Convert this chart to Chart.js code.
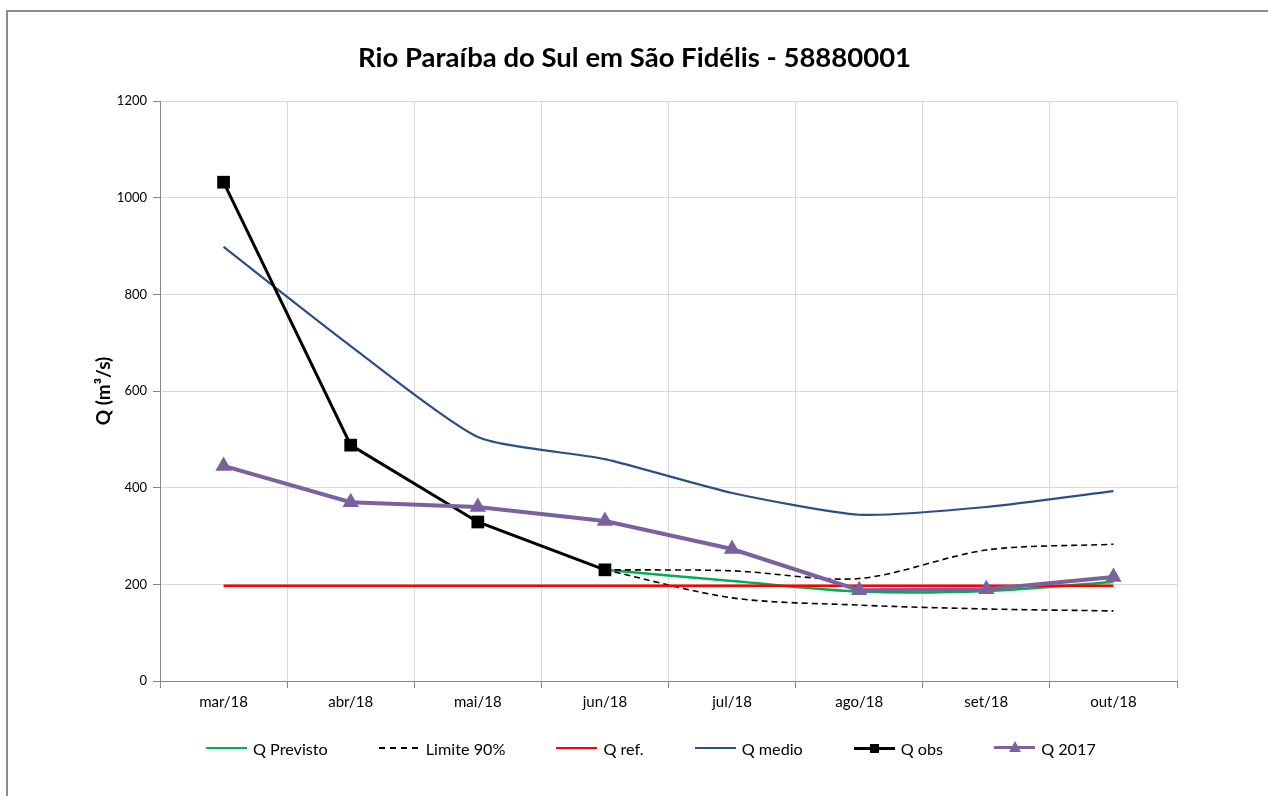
<!DOCTYPE html>
<html>
<head>
<meta charset="utf-8">
<script src="https://cdn.jsdelivr.net/npm/chart.js@4.4.1/dist/chart.umd.min.js"></script>
<style>
  html, body { margin: 0; padding: 0; background: #fff; overflow: hidden; }
  #frame { position: absolute; left: 6px; top: 10px; width: 1300px; height: 830px; border-left: 2px solid #8c8c8c; border-top: 2px solid #8c8c8c; }
  #wrap { position: absolute; left: 0; top: 0; width: 1268px; height: 796px; }
  #legend { position: absolute; left: 206px; top: 737px; display: flex; gap: 51px; font-family: Lato, "Liberation Sans", sans-serif; font-size: 16.2px; color: #000; white-space: nowrap; }
  .item { display: flex; align-items: center; position: relative; }
  .sample { position: relative; width: 41px; height: 22px; margin-right: 6px; }
  .sample .ln { position: absolute; left: 0; right: 0; top: 50%; }
  .sample .mk { position: absolute; left: 50%; top: 50%; }
</style>
</head>
<body>
<div id="frame"></div>
<div id="wrap"><canvas id="c" width="1268" height="796"></canvas></div>
<div id="legend"></div>
<script>
const categories = ['mar/18', 'abr/18', 'mai/18', 'jun/18', 'jul/18', 'ago/18', 'set/18', 'out/18'];
const qPrevisto = [null, null, null, 230, 207, 185, 186, 205];
const limite90Sup = [null, null, null, 230, 228, 212, 271, 283];
const limite90Inf = [null, null, null, 230, 172, 157, 149, 145];
const qRef = [197, 197, 197, 197, 197, 197, 197, 197];
const qMedio = [898, 693, 505, 459, 389, 344, 360, 393];
const qObs = [1032, 488, 329, 230, null, null, null, null];
const q2017 = [445, 370, 360, 331, 273, 188, 190, 215];
const yTicks = [0, 200, 400, 600, 800, 1000, 1200];

const FONT = 'Lato, "Liberation Sans", sans-serif';

const datasets = [
  { label: 'Q Previsto', data: qPrevisto, borderColor: '#00B050', backgroundColor: '#00B050', borderWidth: 2.5, pointRadius: 0, tension: 0.3, order: 5 },
  { label: 'Limite 90%', data: limite90Sup, borderColor: '#000', backgroundColor: '#000', borderWidth: 1.6, borderDash: [6, 4], pointRadius: 0, tension: 0.3, order: 4 },
  { label: 'Limite 90% inf', data: limite90Inf, borderColor: '#000', backgroundColor: '#000', borderWidth: 1.6, borderDash: [6, 4], pointRadius: 0, tension: 0.3, order: 4, noLegend: true },
  { label: 'Q ref.', data: qRef, borderColor: '#FF0000', backgroundColor: '#FF0000', borderWidth: 2.5, pointRadius: 0, order: 3 },
  { label: 'Q medio', data: qMedio, borderColor: '#2C4F87', backgroundColor: '#2C4F87', borderWidth: 2.2, pointRadius: 0, tension: 0.2, order: 2 },
  { label: 'Q obs', data: qObs, borderColor: '#000', backgroundColor: '#000', borderWidth: 3, pointStyle: 'rect', pointRadius: 9, pointBorderWidth: 0, order: 1 },
  { label: 'Q 2017', data: q2017, borderColor: '#7B61A0', backgroundColor: '#7B61A0', borderWidth: 4, pointStyle: 'triangle', pointRadius: 9.5, pointBorderWidth: 0, order: 0 }
];

// HTML legend built from the datasets
const legend = document.getElementById('legend');
datasets.filter(d => !d.noLegend).forEach(d => {
  const item = document.createElement('div'); item.className = 'item';
  const s = document.createElement('div'); s.className = 'sample';
  const ln = document.createElement('div'); ln.className = 'ln';
  if (d.borderDash) {
    ln.style.height = '2px';
    ln.style.background = 'repeating-linear-gradient(90deg, ' + d.borderColor + ' 0 6px, transparent 6px 11px)';
    ln.style.marginTop = '-1px';
  } else {
    const w = Math.min(d.borderWidth, 3.5);
    ln.style.borderTop = w + 'px solid ' + d.borderColor;
    ln.style.marginTop = (-w / 2) + 'px';
  }
  s.appendChild(ln);
  if (d.pointStyle === 'rect') {
    const mk = document.createElement('div'); mk.className = 'mk';
    mk.style.width = '9px'; mk.style.height = '9px'; mk.style.margin = '-4.5px 0 0 -4.5px'; mk.style.background = d.borderColor;
    s.appendChild(mk);
  } else if (d.pointStyle === 'triangle') {
    const mk = document.createElement('div'); mk.className = 'mk';
    mk.style.width = '0'; mk.style.height = '0';
    mk.style.borderLeft = '6px solid transparent'; mk.style.borderRight = '6px solid transparent';
    mk.style.borderBottom = '11px solid ' + d.borderColor; mk.style.margin = '-7px 0 0 -6px';
    s.appendChild(mk);
  }
  item.appendChild(s);
  const t = document.createElement('span'); t.textContent = d.label;
  item.appendChild(t);
  legend.appendChild(item);
});

new Chart(document.getElementById('c'), {
  type: 'line',
  data: { labels: categories, datasets: datasets },
  options: {
    responsive: false,
    animation: false,
    spanGaps: false,
    layout: { padding: { left: 92, right: 91, top: 12, bottom: 75 } },
    plugins: {
      title: {
        display: true,
        text: 'Rio Paraíba do Sul em São Fidélis - 58880001',
        color: '#000',
        font: { family: FONT, size: 27.5, weight: 'bold', lineHeight: 1.2 },
        padding: { top: 30, bottom: 26 }
      },
      legend: { display: false },
      tooltip: { enabled: false }
    },
    scales: {
      x: {
        offset: true,
        grid: { offset: true, color: '#d9d9d9', tickColor: '#868686', tickLength: 7, lineWidth: 1 },
        border: { color: '#868686', width: 1 },
        ticks: { color: '#000', font: { family: FONT, size: 15 }, padding: 5, maxRotation: 0 },
        afterFit: (s) => { s.height = 40; }
      },
      y: {
        min: 0, max: 1200,
        afterBuildTicks: (s) => { s.ticks = yTicks.map(v => ({ value: v })); },
        grid: { color: '#d9d9d9', tickColor: '#868686', tickLength: 7 },
        border: { color: '#868686', width: 1 },
        ticks: { color: '#000', font: { family: FONT, size: 13 }, padding: 6, callback: (v) => String(v) },
        title: { display: true, text: 'Q (m³/s)', color: '#000', font: { family: FONT, size: 19, weight: 'bold' }, padding: { top: 0, bottom: 0 } },
        afterFit: (s) => { s.width = 68; }
      }
    }
  }
});
</script>
</body>
</html>
